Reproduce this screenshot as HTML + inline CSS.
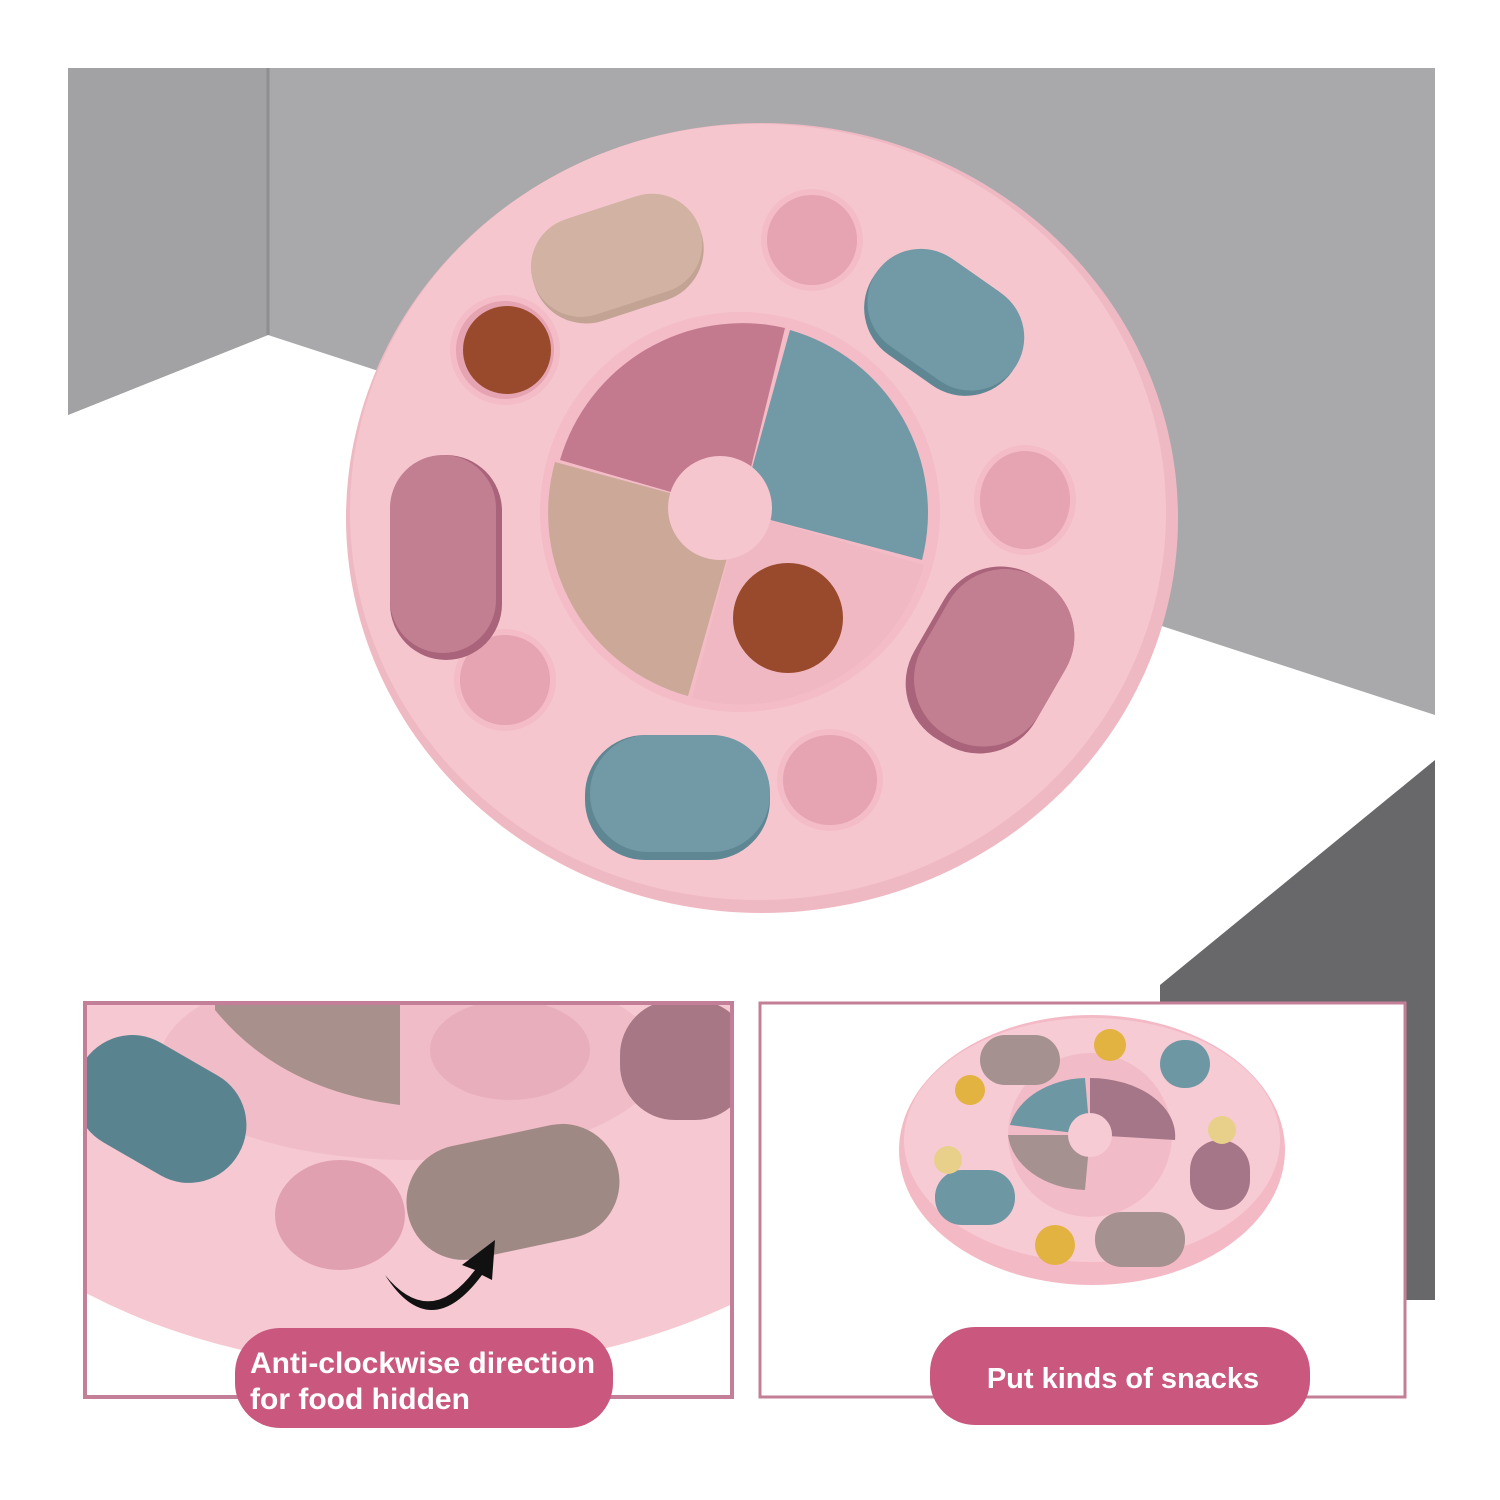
<!DOCTYPE html>
<html><head><style>
html,body{margin:0;padding:0;background:#fff;width:1500px;height:1500px;overflow:hidden}
svg{display:block}
text{font-family:"Liberation Sans",sans-serif;font-weight:bold;fill:#fff}
</style></head><body>
<svg width="1500" height="1500" viewBox="0 0 1500 1500">
<rect width="1500" height="1500" fill="#fff"/>
<polygon points="68,68 1435,68 1435,715 268,335 68,415" fill="#a9a9ab"/>
<polygon points="68,68 268,68 268,335 68,415" fill="#a2a2a4"/>
<line x1="268" y1="68" x2="268" y2="335" stroke="#8f8f91" stroke-width="3"/>
<polygon points="1160,985 1435,760 1435,1300 1160,1300" fill="#68686a"/>
<ellipse cx="762" cy="518" rx="416" ry="395" fill="#efb9c3"/>
<ellipse cx="758" cy="512" rx="408" ry="388" fill="#f6c6cf"/>
<g fill="#e6a3b1" stroke="#f3bcc7" stroke-width="6">
<ellipse cx="812" cy="240" rx="48" ry="48"/>
<ellipse cx="1025" cy="500" rx="48" ry="52"/>
<ellipse cx="505" cy="680" rx="48" ry="48"/>
<ellipse cx="830" cy="780" rx="50" ry="48"/>
<ellipse cx="505" cy="350" rx="52" ry="52"/>
</g>
<circle cx="507" cy="350" r="44" fill="#9a4a2c"/>
<g transform="rotate(-18 618 258)"><rect x="530" y="205" width="175" height="108" rx="54" fill="#c2a394"/><rect x="530" y="205" width="175" height="100" rx="50" fill="#d1b2a3"/></g>
<g transform="rotate(35 943 322)"><rect x="860" y="265" width="168" height="115" rx="57" fill="#5f8793"/><rect x="860" y="265" width="168" height="107" rx="54" fill="#7199a6"/></g>
<g><rect x="390" y="455" width="112" height="205" rx="56" fill="#a9637a"/><rect x="390" y="455" width="106" height="198" rx="53" fill="#c27f92"/></g>
<g transform="rotate(30 990 660)"><rect x="920" y="565" width="140" height="190" rx="65" fill="#a9637a"/><rect x="925" y="565" width="135" height="182" rx="65" fill="#c27f92"/></g>
<g><rect x="585" y="735" width="185" height="125" rx="60" fill="#5f8793"/><rect x="590" y="735" width="180" height="117" rx="58" fill="#7199a6"/></g>
<circle cx="740" cy="512" r="200" fill="#f3bcc7"/>
<path d="M740,512 L560,460 A190,190 0 0 1 785,328 Z" fill="#c47a8e"/>
<path d="M740,512 L790,330 A190,190 0 0 1 922,560 Z" fill="#7199a6"/>
<path d="M740,512 L555,462 A190,190 0 0 0 688,696 Z" fill="#cba897"/>
<path d="M740,512 L924,565 A190,190 0 0 1 692,698 Z" fill="#f0b8c3"/>
<circle cx="788" cy="618" r="55" fill="#9a4a2c"/>
<circle cx="720" cy="508" r="52" fill="#f6c6cf"/>
<rect x="85" y="1003" width="647" height="394" fill="#fff" stroke="#c37f97" stroke-width="4"/>
<clipPath id="cl"><rect x="87" y="1005" width="643" height="390"/></clipPath>
<g clip-path="url(#cl)">
<ellipse cx="420" cy="1040" rx="520" ry="330" fill="#f6c8d2"/>
<ellipse cx="410" cy="1060" rx="250" ry="100" fill="#f0bcc7"/>
<path d="M215,1003 L400,1003 L400,1105 Q280,1090 215,1010 Z" fill="#a8918d"/>
<ellipse cx="510" cy="1050" rx="80" ry="50" fill="#e8aebb"/>
<rect x="620" y="1000" width="130" height="120" rx="55" fill="#a77785"/>
<g transform="rotate(30 160 1100)"><rect x="75" y="1050" width="180" height="115" rx="57" fill="#5a8390"/></g>
<ellipse cx="340" cy="1215" rx="65" ry="55" fill="#e0a0b0"/>
<g transform="rotate(-12 510 1190)"><rect x="405" y="1135" width="215" height="115" rx="57" fill="#9f8985"/></g>
<path d="M385,1275 Q430,1330 475,1270 L462,1265 L495,1240 L492,1280 L482,1275 Q430,1345 385,1275 Z" fill="#111"/>
</g>
<rect x="235" y="1328" width="378" height="100" rx="45" fill="#c9577e"/>
<text x="250" y="1373" font-size="30">Anti-clockwise direction</text>
<text x="250" y="1409" font-size="30">for food hidden</text>
<rect x="760" y="1003" width="645" height="394" fill="#fff" stroke="#c37f97" stroke-width="3"/>
<ellipse cx="1092" cy="1150" rx="193" ry="135" fill="#f3bac6"/>
<ellipse cx="1092" cy="1140" rx="188" ry="122" fill="#f7cbd4"/>
<circle cx="1090" cy="1135" r="82" fill="#f1bcc7"/>
<path d="M1090,1135 L1010,1125 A80,60 0 0 1 1085,1078 Z" fill="#6e97a4"/>
<path d="M1090,1135 L1090,1078 A85,58 0 0 1 1175,1140 Z" fill="#a57688"/>
<path d="M1090,1135 L1008,1135 A80,60 0 0 0 1085,1190 Z" fill="#a59190"/>
<circle cx="1090" cy="1135" r="22" fill="#f7cbd4"/>
<rect x="980" y="1035" width="80" height="50" rx="25" fill="#a59190"/>
<rect x="1160" y="1040" width="50" height="48" rx="24" fill="#6e97a4"/>
<rect x="935" y="1170" width="80" height="55" rx="27" fill="#6e97a4"/>
<rect x="1190" y="1140" width="60" height="70" rx="30" fill="#a57688"/>
<rect x="1095" y="1212" width="90" height="55" rx="27" fill="#a59190"/>
<circle cx="1055" cy="1245" r="20" fill="#e3b341"/>
<circle cx="1110" cy="1045" r="16" fill="#e3b341"/>
<circle cx="970" cy="1090" r="15" fill="#e3b341"/>
<circle cx="1222" cy="1130" r="14" fill="#e8d08a"/>
<circle cx="948" cy="1160" r="14" fill="#e8d08a"/>
<rect x="930" y="1327" width="380" height="98" rx="45" fill="#c9577e"/>
<text x="1123" y="1388" font-size="29" text-anchor="middle">Put kinds of snacks</text>
</svg>
</body></html>
